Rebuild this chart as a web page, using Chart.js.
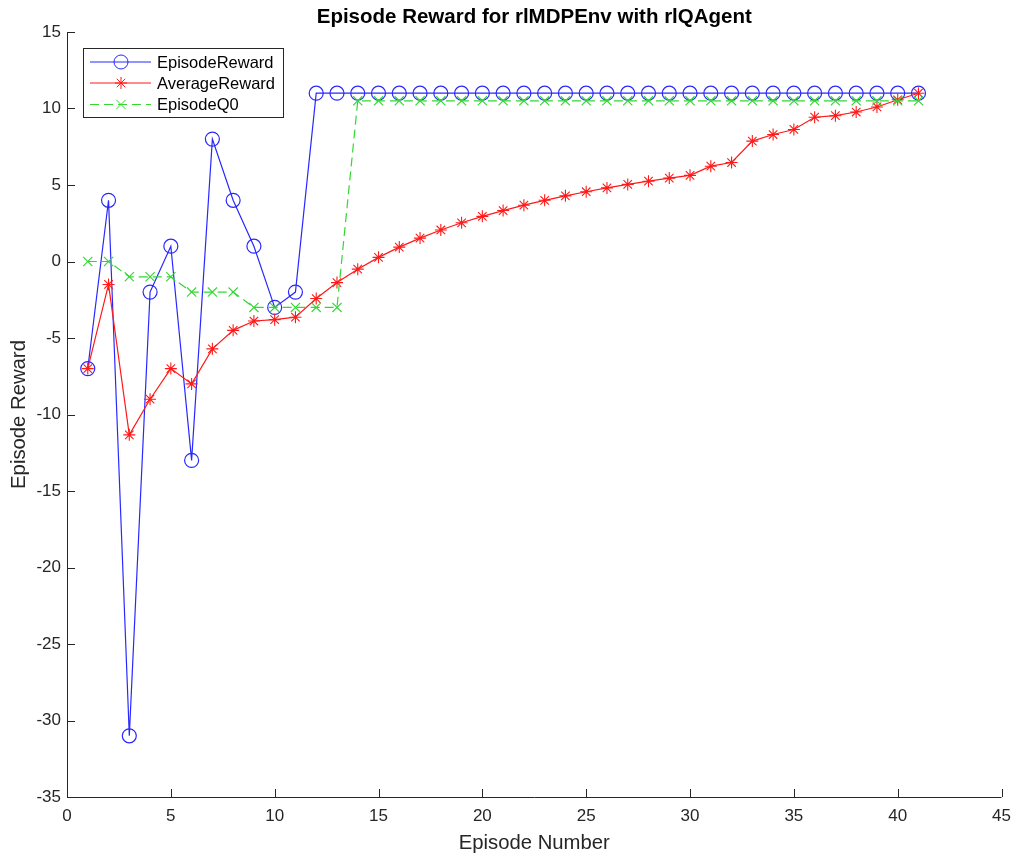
<!DOCTYPE html>
<html>
<head>
<meta charset="utf-8">
<script src="https://cdn.jsdelivr.net/npm/chart.js@4/dist/chart.umd.min.js"></script>
<style>
  html, body { margin: 0; padding: 0; background: #ffffff; }
  #wrap { width: 1020px; height: 858px; position: relative; }
</style>
</head>
<body>
<div id="wrap"><canvas id="c" width="1020" height="858"></canvas></div>
<script>
// Training history per episode
const episodes = [1,2,3,4,5,6,7,8,9,10,11,12,13,14,15,16,17,18,19,20,21,22,23,24,25,26,27,28,29,30,31,32,33,34,35,36,37,38,39,40,41];
const episodeReward = [-7,4,-31,-2,1,-13,8,4,1,-3,-2,11,11,11,11,11,11,11,11,11,11,11,11,11,11,11,11,11,11,11,11,11,11,11,11,11,11,11,11,11,11];
const averageReward = [-7,-1.5,-11.33,-9,-7,-8,-5.71,-4.5,-3.89,-3.8,-3.64,-2.42,-1.38,-0.5,0.27,0.94,1.53,2.06,2.53,2.95,3.33,3.68,4.0,4.29,4.56,4.81,5.04,5.25,5.45,5.63,6.23,6.47,7.87,8.3,8.63,9.43,9.53,9.77,10.1,10.57,11];
const episodeQ0 = [0,0,-1,-1,-1,-2,-2,-2,-3,-3,-3,-3,-3,10.5,10.5,10.5,10.5,10.5,10.5,10.5,10.5,10.5,10.5,10.5,10.5,10.5,10.5,10.5,10.5,10.5,10.5,10.5,10.5,10.5,10.5,10.5,10.5,10.5,10.5,10.5,10.5];
const xTicks = [0,5,10,15,20,25,30,35,40,45];
const yTicks = [-35,-30,-25,-20,-15,-10,-5,0,5,10,15];
const seriesNames = ['EpisodeReward', 'AverageReward', 'EpisodeQ0'];

const BLUE = 'rgb(40,40,255)';
const RED = 'rgb(255,25,25)';
const GREEN = 'rgb(50,215,50)';
const AXIS = '#262626';
const FONT = '"Liberation Sans", Arial, Helvetica, sans-serif';

const toPoints = (ys) => episodes.map((e, i) => ({ x: e, y: ys[i] }));

function drawMarker(ctx, style, x, y, r, color) {
  ctx.save();
  ctx.strokeStyle = color;
  ctx.lineWidth = 1;
  ctx.setLineDash([]);
  ctx.beginPath();
  if (style === 'circle') {
    ctx.arc(x, y, r, 0, Math.PI * 2);
  } else if (style === 'star') {
    ctx.moveTo(x - r, y); ctx.lineTo(x + r, y);
    ctx.moveTo(x, y - r); ctx.lineTo(x, y + r);
    const d = r * Math.SQRT1_2;
    ctx.moveTo(x - d, y - d); ctx.lineTo(x + d, y + d);
    ctx.moveTo(x - d, y + d); ctx.lineTo(x + d, y - d);
  } else {
    const d = r * Math.SQRT1_2;
    ctx.moveTo(x - d, y - d); ctx.lineTo(x + d, y + d);
    ctx.moveTo(x - d, y + d); ctx.lineTo(x + d, y - d);
  }
  ctx.stroke();
  ctx.restore();
}

// Axis lines, inward tick marks, titles and the boxed legend
const decorations = {
  id: 'decorations',
  afterDraw(chart) {
    const ctx = chart.ctx;
    const xs = chart.scales.x, ys = chart.scales.y;
    const L = xs.left, R = xs.right, T = ys.top, B = ys.bottom;
    ctx.save();
    ctx.strokeStyle = AXIS;
    ctx.lineWidth = 1;
    ctx.beginPath();
    ctx.moveTo(L + 0.5, T); ctx.lineTo(L + 0.5, B + 0.5); ctx.lineTo(R, B + 0.5);
    const tl = 8;
    xTicks.forEach(v => {
      const px = Math.round(xs.getPixelForValue(v)) + 0.5;
      ctx.moveTo(px, B); ctx.lineTo(px, B - tl);
    });
    yTicks.forEach(v => {
      const py = Math.round(ys.getPixelForValue(v)) + 0.5;
      ctx.moveTo(L, py); ctx.lineTo(L + tl, py);
    });
    ctx.stroke();

    // titles
    ctx.fillStyle = '#000000';
    ctx.textAlign = 'center';
    ctx.textBaseline = 'middle';
    ctx.font = 'bold 20.5px ' + FONT;
    ctx.fillText('Episode Reward for rlMDPEnv with rlQAgent', (L + R) / 2, 17);
    ctx.fillStyle = '#262626';
    ctx.font = '20.3px ' + FONT;
    ctx.fillText('Episode Number', (L + R) / 2, 843);
    ctx.save();
    ctx.translate(19, (T + B) / 2);
    ctx.rotate(-Math.PI / 2);
    ctx.fillText('Episode Reward', 0, 0);
    ctx.restore();

    // legend
    const bx = 83, by = 48, bw = 200, bh = 69;
    ctx.fillStyle = '#ffffff';
    ctx.fillRect(bx, by, bw, bh);
    ctx.strokeStyle = AXIS;
    ctx.strokeRect(bx + 0.5, by + 0.5, bw, bh);
    const rows = [62, 83, 104.5];
    const styles = [
      { color: BLUE, marker: 'circle', r: 7, dash: [] },
      { color: RED, marker: 'star', r: 6, dash: [] },
      { color: GREEN, marker: 'cross', r: 6.5, dash: [9, 5] }
    ];
    ctx.font = '16.5px ' + FONT;
    ctx.textAlign = 'left';
    rows.forEach((ry, i) => {
      const s = styles[i];
      ctx.save();
      ctx.strokeStyle = s.color;
      ctx.lineWidth = 1.2;
      ctx.setLineDash(s.dash);
      ctx.beginPath();
      ctx.moveTo(90, ry); ctx.lineTo(151, ry);
      ctx.stroke();
      ctx.restore();
      drawMarker(ctx, s.marker, 121, ry, s.r, s.color);
      ctx.fillStyle = '#000000';
      ctx.fillText(seriesNames[i], 157, ry + 1);
    });
    ctx.restore();
  }
};

new Chart(document.getElementById('c'), {
  type: 'line',
  data: {
    datasets: [
      {
        label: seriesNames[0],
        data: toPoints(episodeReward),
        borderColor: BLUE,
        borderWidth: 1.2,
        pointStyle: 'circle',
        pointRadius: 7,
        pointBorderWidth: 1.2,
        pointBorderColor: BLUE,
        pointBackgroundColor: 'rgba(0,0,0,0)',
        tension: 0,
        order: 3
      },
      {
        label: seriesNames[1],
        data: toPoints(averageReward),
        borderColor: RED,
        borderWidth: 1.2,
        pointStyle: 'star',
        pointRadius: 6,
        pointBorderWidth: 1.1,
        pointBorderColor: RED,
        pointBackgroundColor: RED,
        tension: 0,
        order: 2
      },
      {
        label: seriesNames[2],
        data: toPoints(episodeQ0),
        borderColor: GREEN,
        borderWidth: 1.2,
        borderDash: [9, 5],
        pointStyle: 'crossRot',
        pointRadius: 6.5,
        pointBorderWidth: 1.1,
        pointBorderColor: GREEN,
        pointBackgroundColor: GREEN,
        tension: 0,
        order: 1
      }
    ]
  },
  options: {
    responsive: false,
    animation: false,
    devicePixelRatio: 1,
    layout: { padding: { top: 32, right: 17, left: 0, bottom: 0 } },
    plugins: {
      legend: { display: false },
      title: { display: false },
      tooltip: { enabled: false }
    },
    elements: { line: { fill: false } },
    scales: {
      x: {
        type: 'linear',
        min: 0, max: 45,
        grid: { display: false, drawTicks: false },
        border: { display: false },
        afterBuildTicks(scale) { scale.ticks = xTicks.map(v => ({ value: v })); },
        afterFit(scale) { scale.height = 61; },
        ticks: {
          padding: 9,
          color: '#262626',
          font: { family: FONT, size: 17 },
          maxRotation: 0,
          autoSkip: false
        }
      },
      y: {
        type: 'linear',
        min: -35, max: 15,
        grid: { display: false, drawTicks: false },
        border: { display: false },
        afterBuildTicks(scale) { scale.ticks = yTicks.map(v => ({ value: v })); },
        afterFit(scale) { scale.width = 67; },
        ticks: {
          padding: 6,
          color: '#262626',
          font: { family: FONT, size: 17 },
          autoSkip: false
        }
      }
    }
  },
  plugins: [decorations]
});
</script>
</body>
</html>
